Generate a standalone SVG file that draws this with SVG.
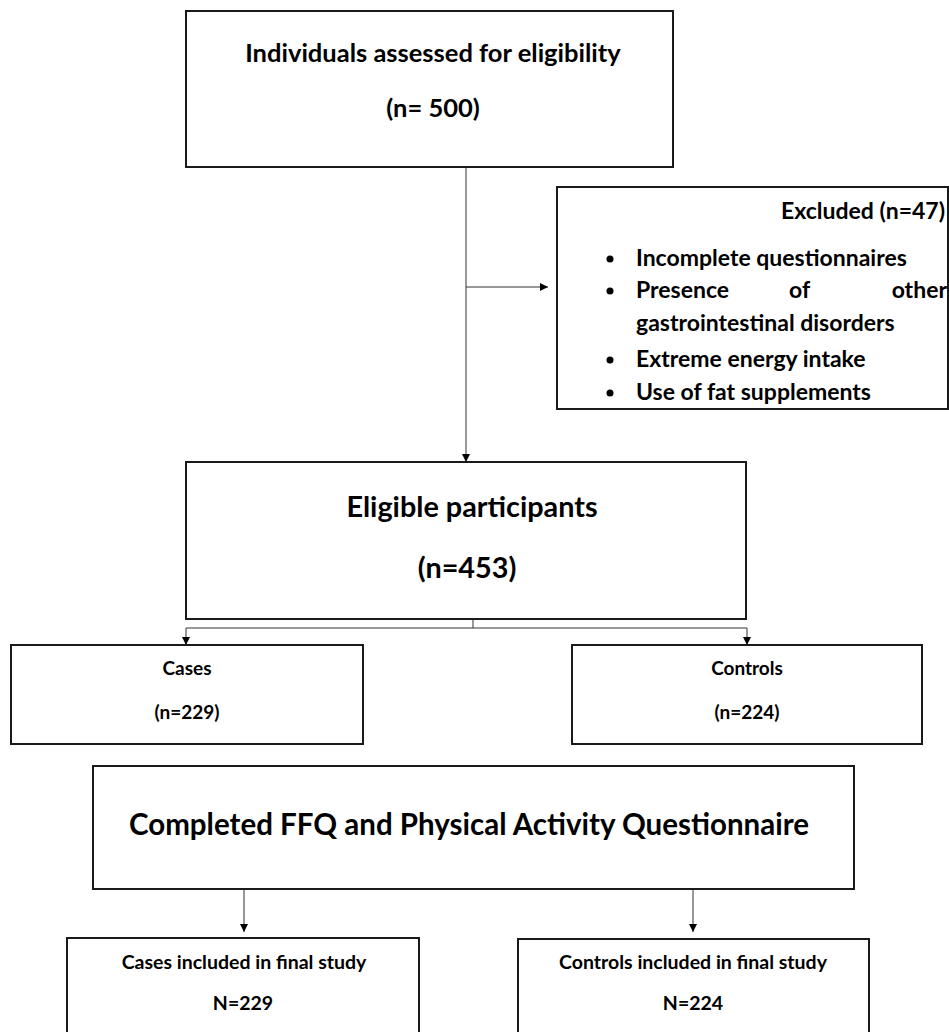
<svg xmlns="http://www.w3.org/2000/svg" width="949" height="1032" viewBox="0 0 949 1032">
<defs>
<marker id="ah" viewBox="0 0 10 10" refX="10" refY="5" markerWidth="8" markerHeight="8" markerUnits="userSpaceOnUse" orient="auto">
<path d="M0,0 L10,5 L0,10 z" fill="#000"/>
</marker>
</defs>
<style>
.box{fill:#fff;stroke:#1a1a1a;stroke-width:2}
.t{font-family:Lato,"Liberation Sans",sans-serif;font-weight:bold;fill:#000;text-anchor:middle}
.l{font-family:Lato,"Liberation Sans",sans-serif;font-weight:bold;fill:#000}
.c{fill:none;stroke:#333;stroke-width:1}
</style>
<rect width="949" height="1032" fill="#fff"/>
<g id="connectors">
<line class="c" x1="466" y1="167" x2="466" y2="462" marker-end="url(#ah)"/>
<line class="c" x1="466" y1="287" x2="548" y2="287" marker-end="url(#ah)"/>
<polyline class="c" points="473,619 473,628 186,628 186,645" marker-end="url(#ah)"/>
<polyline class="c" points="473,628 747,628 747,645" marker-end="url(#ah)"/>
<line class="c" x1="244" y1="889" x2="244" y2="932" marker-end="url(#ah)"/>
<line class="c" x1="693" y1="889" x2="693" y2="932" marker-end="url(#ah)"/>
</g>
<g id="assessed">
<rect class="box" x="186" y="11" width="487" height="156"/>
<text class="t" x="433" y="62" font-size="25.5">Individuals assessed for eligibility</text>
<text class="t" x="433" y="117" font-size="25.5">(n= 500)</text>
</g>
<g id="excluded">
<rect class="box" x="557" y="187" width="391" height="222"/>
<text class="l" x="945" y="219" font-size="23" text-anchor="end">Excluded (n=47)</text>
<g font-size="23">
<circle cx="610" cy="259" r="3.5"/>
<text class="l" x="636" y="266">Incomplete questionnaires</text>
<circle cx="610" cy="291" r="3.5"/>
<text class="l" x="636" y="298">Presence</text>
<text class="l" x="789" y="298">of</text>
<text class="l" x="947" y="298" text-anchor="end">other</text>
<text class="l" x="636" y="331">gastrointestinal disorders</text>
<circle cx="610" cy="360" r="3.5"/>
<text class="l" x="636" y="367">Extreme energy intake</text>
<circle cx="610" cy="393" r="3.5"/>
<text class="l" x="636" y="400">Use of fat supplements</text>
</g>
</g>
<g id="eligible">
<rect class="box" x="186" y="462" width="560" height="157"/>
<text class="t" x="472" y="517" font-size="28.8">Eligible participants</text>
<text class="t" x="467" y="578" font-size="28.8">(n=453)</text>
</g>
<g id="cases">
<rect class="box" x="11" y="645" width="352" height="99"/>
<text class="t" x="187" y="675" font-size="19">Cases</text>
<text class="t" x="187" y="719" font-size="19">(n=229)</text>
</g>
<g id="controls">
<rect class="box" x="572" y="645" width="350" height="99"/>
<text class="t" x="747" y="675" font-size="19">Controls</text>
<text class="t" x="747" y="719" font-size="19">(n=224)</text>
</g>
<g id="completed">
<rect class="box" x="93" y="766" width="761" height="123"/>
<text class="t" x="469" y="835" font-size="29.5">Completed FFQ and Physical Activity Questionnaire</text>
</g>
<g id="cases-final">
<rect class="box" x="67" y="938" width="352" height="100"/>
<text class="t" x="244" y="969" font-size="19.5">Cases included in final study</text>
<text class="t" x="243" y="1010" font-size="19.5">N=229</text>
</g>
<g id="controls-final">
<rect class="box" x="518" y="939" width="351" height="100"/>
<text class="t" x="693" y="969" font-size="19.5">Controls included in final study</text>
<text class="t" x="693" y="1010" font-size="19.5">N=224</text>
</g>
</svg>
